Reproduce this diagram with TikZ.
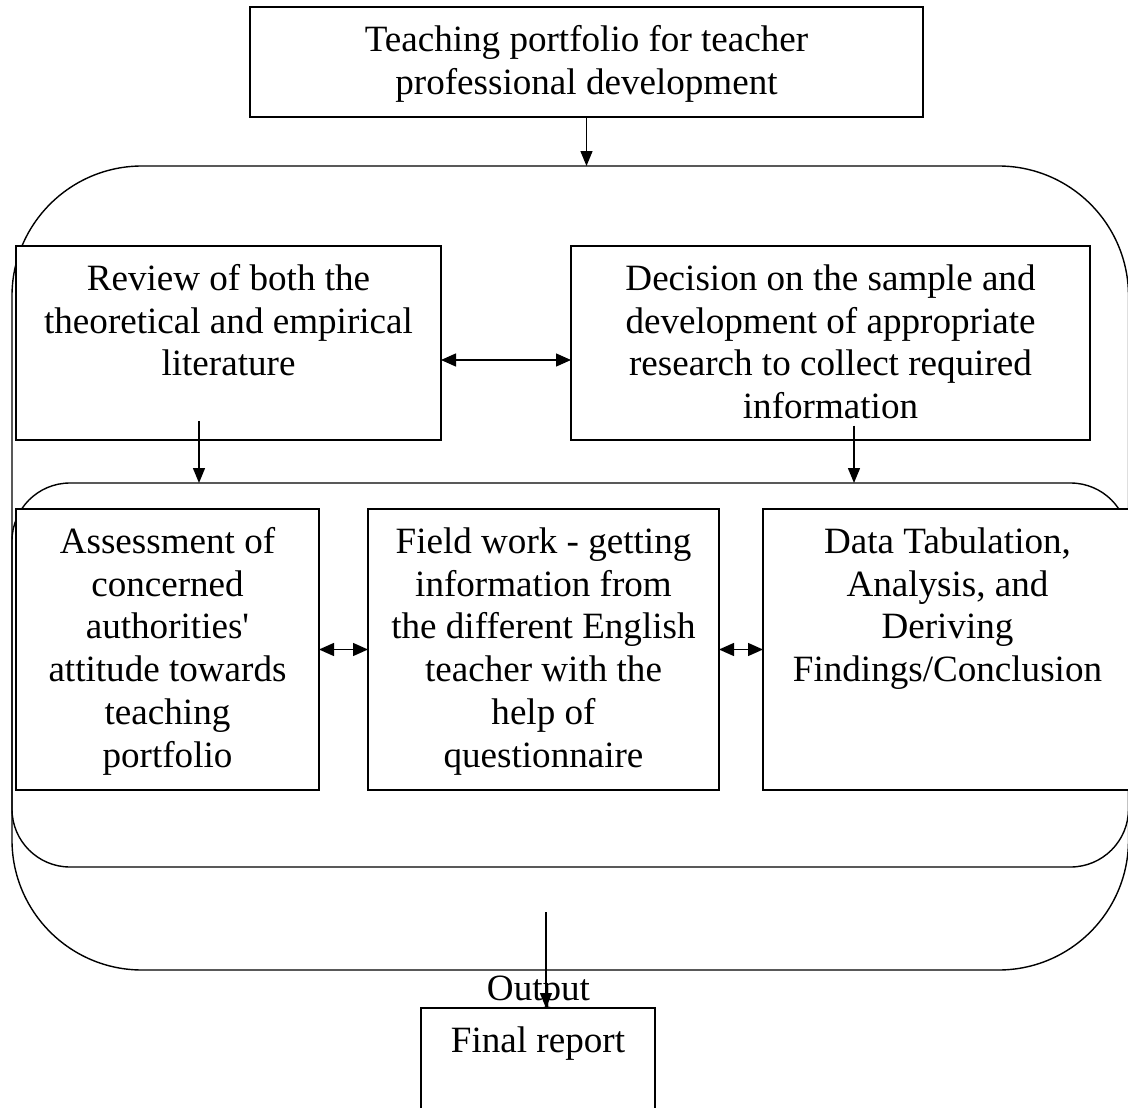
\documentclass[tikz,border=0pt]{standalone}
\usepackage{fontspec}
\setmainfont{Liberation Serif}
\usetikzlibrary{arrows.meta,calc}
\newcommand\bxt[3]{\begin{minipage}[c][#2][t]{#1}\centering\rule{0pt}{44.5pt}#3\end{minipage}}
\begin{document}
\begin{tikzpicture}[x=1pt,y=-1pt,
  every node/.style={font=\fontsize{37.1}{42.7}\selectfont},
  bx/.style={draw, fill=white, line width=1.4pt, inner sep=0pt, outer sep=0pt},
  rr/.style={draw, line width=1.4pt, inner sep=0pt, outer sep=0pt},
  arr/.style={line width=1.4pt, -{Triangle[length=15pt,width=12pt]}},
  darr/.style={line width=1.4pt, {Triangle[length=15pt,width=13pt]}-{Triangle[length=15pt,width=13pt]}}]
\useasboundingbox (0,0) rectangle (1128,1108);
\clip (0,0) rectangle (1128,1108);
\fill[white] (0,0) rectangle (1128,1108);
% rounded frames
\node[rr, rounded corners=130pt, minimum width=1116.5pt, minimum height=804pt] (outer) at (570.25,568) {};
\node[rr, rounded corners=58pt, minimum width=1116.5pt, minimum height=384pt] (inner) at (570.25,675) {};
% boxes
\node[bx] (top) at (586.5,62) {\bxt{673pt}{110pt}{Teaching portfolio for teacher\\professional development}};
\node[bx] (rev) at (228.5,343) {\bxt{425pt}{194pt}{Review of both the\\theoretical and empirical\\literature}};
\node[bx] (dec) at (830.5,343) {\bxt{519pt}{194pt}{Decision on the sample and\\development of appropriate\\research to collect required\\information}};
\node[bx] (ass) at (167.5,649.5) {\bxt{303pt}{281pt}{Assessment of\\concerned\\authorities\textquotesingle\\attitude towards\\teaching\\portfolio}};
\node[bx] (fld) at (543.5,649.5) {\bxt{351pt}{281pt}{Field work - getting\\information from\\the different English\\teacher with the\\help of\\questionnaire}};
\node[bx] (dat) at (947.5,649.5) {\bxt{369pt}{281pt}{Data Tabulation,\\Analysis, and\\Deriving\\Findings/Conclusion}};
\node[bx] (fin) at (538,1066.5) {\bxt{234pt}{117pt}{Final report}};
\node[anchor=base, inner sep=0pt] (outlbl) at (538.5,1000) {Output};
% connectors
\draw[arr] (top.south) -- (top.south |- outer.north);
\draw[darr] ([yshift=-17pt]rev.east) -- ([yshift=-17pt]rev.east -| dec.west);
\draw[arr] ([xshift=-29.5pt,yshift=19pt]rev.south) -- ([xshift=-29.5pt]rev.south |- inner.north);
\draw[arr] ([xshift=23.5pt,yshift=14.5pt]dec.south) -- ([xshift=23.5pt]dec.south |- inner.north);
\draw[darr] (ass.east) -- (fld.west);
\draw[darr] (fld.east) -- (dat.west);
\coordinate (ostart) at (546,912);
\draw[arr] (ostart) -- (ostart |- fin.north);
\end{tikzpicture}
\end{document}
